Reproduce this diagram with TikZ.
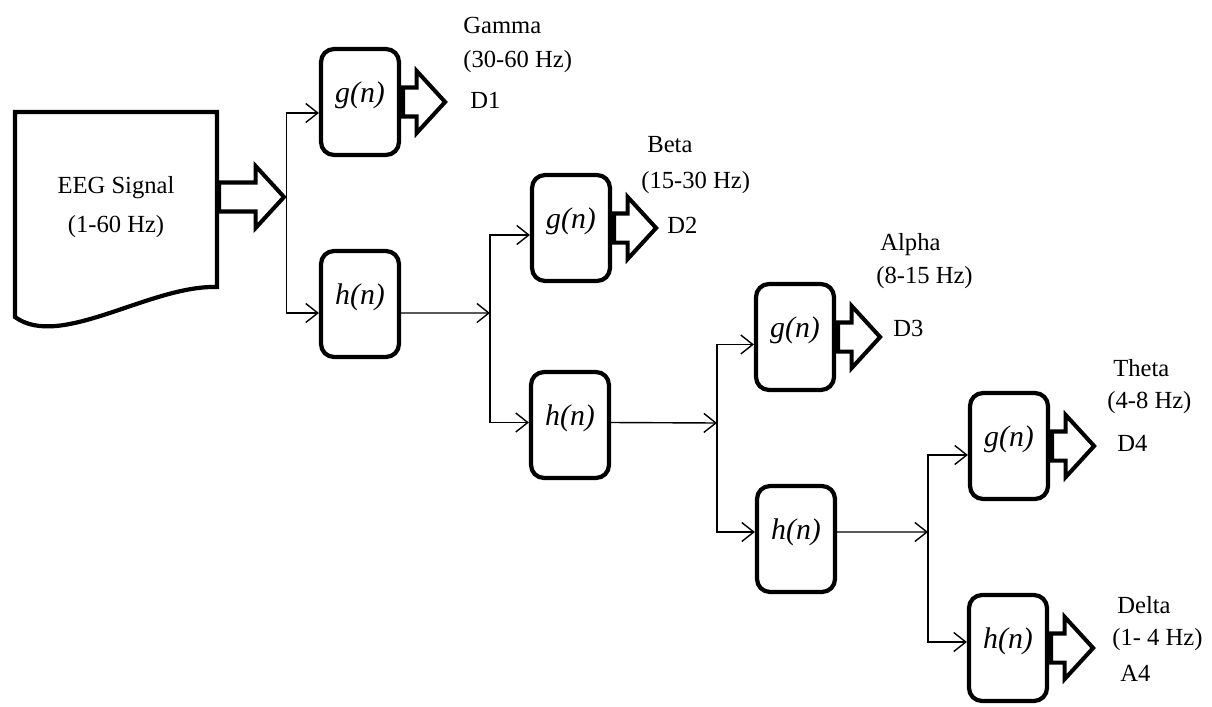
\documentclass[tikz,border=0pt]{standalone}
\usepackage{fontspec}
\setmainfont{Liberation Serif}
\usetikzlibrary{arrows.meta,shapes.arrows}
\begin{document}
\begin{tikzpicture}[x=0.02cm,y=-0.02cm]
	\tikzset{filt/.style={draw, line width=2.4pt, rounded corners=0.26cm, minimum width=1.56cm, minimum height=2.12cm, inner sep=0pt, text height=0.4cm, text depth=0.4cm, font=\fontsize{17}{19}\selectfont\itshape},
		fatarrow/.style={single arrow, draw, fill=white, line width=2.3pt, single arrow head extend=0.33cm, single arrow tip angle=95, minimum height=0.84cm, minimum width=1.14cm, inner xsep=0pt, inner ysep=0.25cm, anchor=tail},
		conn/.style={line width=0.8pt, -{Straight Barb[length=0.24cm,width=0.38cm]}},
		lbl/.style={anchor=west, inner sep=0pt, font=\fontsize{14}{16}\selectfont}}
	\useasboundingbox (0,0) rectangle (1212,706);
	% input signal
	\draw[line width=2.4pt] (15,112) -- (217,112) -- (217,287) .. controls (150,285) and (60,350) .. (15,317) -- cycle;
	\node[align=center, font=\fontsize{14}{22}\selectfont] (eeg) at (116,207) {EEG Signal\\(1-60 Hz)};
	\node[fatarrow, minimum height=1.3cm] (a0) at (217,197) {};
	\coordinate (j1) at (a0.tip);
	% filter bank
	\node[filt] (g1) at (360,102) {g(n)};
	\node[filt] (h1) at (360,304) {h(n)};
	\node[filt] (g2) at (571,228) {g(n)};
	\node[filt] (h2) at (570,425) {h(n)};
	\node[filt] (g3) at (795,337) {g(n)};
	\node[filt] (h3) at (796,539) {h(n)};
	\node[filt] (g4) at (1009,446) {g(n)};
	\node[filt] (h4) at (1008,648) {h(n)};
	\node[fatarrow] (a1) at (g1.east) {};
	\node[fatarrow] (a2) at (g2.east) {};
	\node[fatarrow] (a3) at (g3.east) {};
	\node[fatarrow] (a4) at (g4.east) {};
	\node[fatarrow] (a5) at (h4.east) {};
	% branches
	\draw[conn] (j1) |- ([yshift=-0.22cm]g1.west);
	\draw[conn] (j1) |- ([yshift=-0.18cm]h1.west);
	\coordinate (j2) at (490,313);
	\draw[conn] ([yshift=-0.18cm]h1.east) -- (j2);
	\draw[conn] (j2) |- ([yshift=-0.14cm]g2.west);
	\draw[conn] (j2) |- ([yshift=0.05cm]h2.west);
	\coordinate (j3) at (717,423);
	\draw[conn] ([yshift=0.05cm]h2.east) -- (j3);
	\draw[conn] (j3) |- ([yshift=-0.15cm]g3.west);
	\draw[conn] (j3) |- ([yshift=0.14cm]h3.west);
	\coordinate (j4) at (928,532);
	\draw[conn] ([yshift=0.14cm]h3.east) -- (j4);
	\draw[conn] (j4) |- ([yshift=-0.18cm]g4.west);
	\draw[conn] (j4) |- ([yshift=0.12cm]h4.west);
	% bands
	\node[lbl] (gam) at (463,25) {Gamma};
	\node[lbl] (gamf) at (463,62) {(30-60 Hz)};
	\node[lbl] (d1) at (470,100) {D1};
	\node[lbl] (bet) at (647,145) {Beta};
	\node[lbl] (betf) at (641,183) {(15-30 Hz)};
	\node[lbl] (d2) at (667,225) {D2};
	\node[lbl] (alp) at (880,245) {Alpha};
	\node[lbl] (alpf) at (876,278) {(8-15 Hz)};
	\node[lbl] (d3) at (893,328) {D3};
	\node[lbl] (the) at (1113,368) {Theta};
	\node[lbl] (thef) at (1107,403) {(4-8 Hz)};
	\node[lbl] (d4) at (1117,443) {D4};
	\node[lbl] (del) at (1117,605) {Delta};
	\node[lbl] (delf) at (1112,640) {(1- 4 Hz)};
	\node[lbl] (a4l) at (1120,673) {A4};
\end{tikzpicture}
\end{document}
